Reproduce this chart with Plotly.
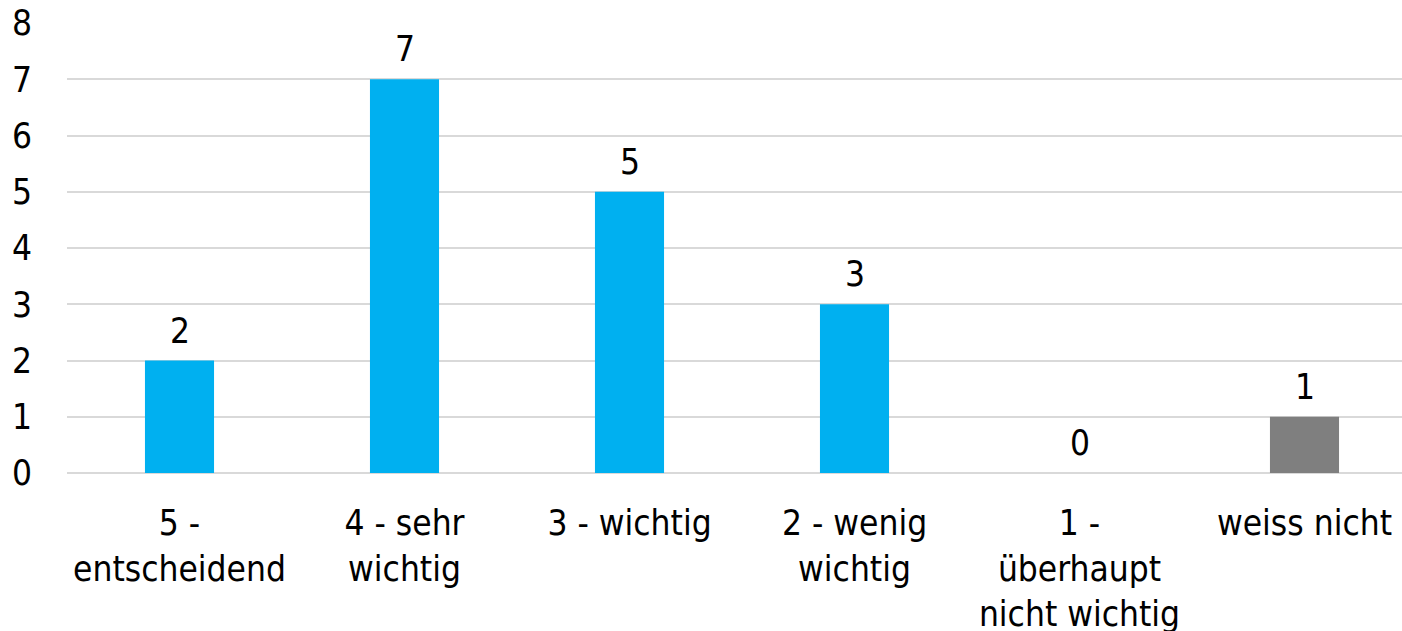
import plotly.graph_objects as go

categories = ["5 -<br>entscheidend", "4 - sehr<br>wichtig", "3 - wichtig",
              "2 - wenig<br>wichtig", "1 -<br>überhaupt<br>nicht wichtig", "weiss nicht"]
values = [2, 7, 5, 3, 0, 1]
bar_colors = ["#00B0F0", "#00B0F0", "#00B0F0", "#00B0F0", "#00B0F0", "#7F7F7F"]
y_ticks = [0, 1, 2, 3, 4, 5, 6, 7, 8]

FONT = "DejaVu Sans Condensed, DejaVu Sans, sans-serif"
FS = 35

fig = go.Figure()
fig.add_trace(go.Bar(x=categories, y=values, marker=dict(color=bar_colors, line=dict(width=0)),
                     hoverinfo="skip", cliponaxis=False))

for c, v in zip(categories, values):
    fig.add_annotation(x=c, y=v, text=str(v), showarrow=False, yanchor="bottom", yshift=8,
                       font=dict(family=FONT, size=FS, color="#000000"))

fig.update_layout(
    width=1402, height=631,
    margin=dict(l=67, r=0, t=23, b=158, autoexpand=False),
    paper_bgcolor="white", plot_bgcolor="white",
    bargap=0.693,
    showlegend=False,
    font=dict(family=FONT, size=FS, color="#000000"),
)
fig.update_xaxes(range=[-0.5, -0.5 + 1335 / 225], showgrid=False, showline=False, ticks="",
                 tickfont=dict(family=FONT, size=FS, color="#000000"), ticklabelstandoff=26,
                 automargin=False, fixedrange=True)
fig.update_yaxes(range=[0, 8], tickvals=y_ticks, showgrid=True, gridcolor="#D9D9D9", gridwidth=2,
                 zeroline=True, zerolinecolor="#D9D9D9", zerolinewidth=2, showline=False, ticks="",
                 tickfont=dict(family=FONT, size=FS, color="#000000"), ticklabelstandoff=34,
                 automargin=False, fixedrange=True)

fig.write_html("out.html", config={"displayModeBar": False},
               post_script="document.body.style.margin='0';document.body.style.overflow='hidden';")
